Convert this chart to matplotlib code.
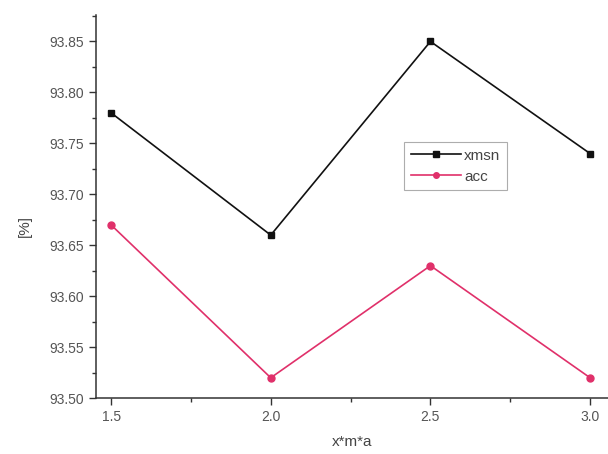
import matplotlib
matplotlib.use("Agg")
import matplotlib.pyplot as plt
from matplotlib.ticker import MultipleLocator, FormatStrFormatter

x_vals = [1.5, 2.0, 2.5, 3.0]
xmsn = [93.78, 93.66, 93.85, 93.74]
acc = [93.67, 93.52, 93.63, 93.52]

plt.rcParams["font.family"] = ["Liberation Sans", "DejaVu Sans"]

fig = plt.figure(figsize=(6.08, 4.54), dpi=100)
ax = fig.add_axes([0.158, 0.123, 0.842, 0.844])

ax.plot(x_vals, xmsn, color="#111111", lw=1.2, marker="s", ms=4.8, label="xmsn")
ax.plot(x_vals, acc, color="#e0306a", lw=1.2, marker="o", ms=5.0, label="acc")

ax.set_xlim(1.453, 3.056)
ax.set_ylim(93.50, 93.876)
ax.xaxis.set_major_locator(MultipleLocator(0.5))
ax.xaxis.set_minor_locator(MultipleLocator(0.25))
ax.yaxis.set_major_locator(MultipleLocator(0.05))
ax.yaxis.set_minor_locator(MultipleLocator(0.025))
ax.xaxis.set_major_formatter(FormatStrFormatter("%.1f"))
ax.yaxis.set_major_formatter(FormatStrFormatter("%.2f"))

for s in ["top", "right"]:
    ax.spines[s].set_visible(False)
for s in ["left", "bottom"]:
    ax.spines[s].set_color("#333333")
    ax.spines[s].set_linewidth(1.1)

ax.tick_params(which="major", direction="out", length=5, width=1, colors="#333333",
               labelsize=10, labelcolor="#555555")
ax.tick_params(which="minor", direction="out", length=3, width=1, colors="#333333")

ax.set_xlabel("x*m*a", fontsize=11, color="#444444", labelpad=8)
ax.set_ylabel("[%]", fontsize=11, color="#444444", labelpad=10)
ax.yaxis.set_label_coords(-0.125, 0.45)

leg = ax.legend(loc="upper left", bbox_to_anchor=(0.586, 0.689), fontsize=11,
                frameon=True, fancybox=False, handlelength=3.3, handletextpad=0.2,
                borderpad=0.45, labelspacing=0.45, markerscale=0.8)
leg.get_frame().set_edgecolor("#999999")
leg.get_frame().set_linewidth(0.8)
for t in leg.get_texts():
    t.set_color("#444444")

fig.savefig("out.png", dpi=100)
